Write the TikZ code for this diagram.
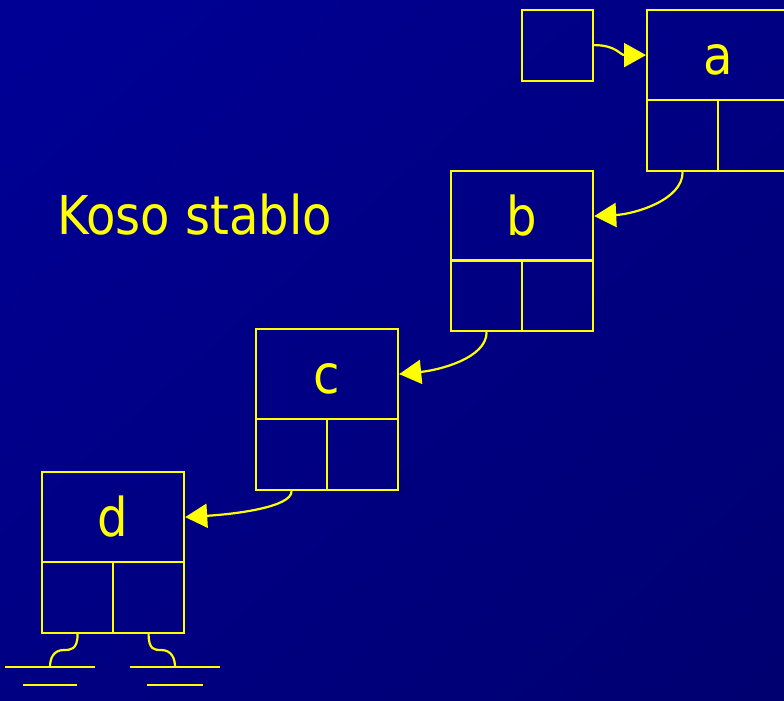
\documentclass[tikz,border=0pt]{standalone}
\usepackage{fontspec}
\setmainfont{DejaVu Sans Condensed}
\usetikzlibrary{arrows.meta,shadings}
\definecolor{bgUL}{RGB}{0,0,150}
\definecolor{bgMID}{RGB}{0,0,131}
\definecolor{bgLR}{RGB}{0,0,112}
\definecolor{ylw}{RGB}{255,255,0}
\tikzset{
  cell/.style={draw=ylw, line width=2.2pt, inner sep=0pt, anchor=north west},
  topcell/.style={cell, minimum width=142pt, minimum height=90pt,
    text=ylw, text height=38pt, text depth=0pt,
    font=\fontsize{53.5}{60}\selectfont},
  botcell/.style={cell, minimum width=71pt, minimum height=71pt},
  ptr/.style={draw=ylw, line width=2.2pt, -{Triangle[length=22pt,width=24pt]}},
  gnd/.style={draw=ylw, line width=2.2pt},
}
\begin{document}
\begin{tikzpicture}[x=1pt,y=-1pt]
\useasboundingbox (0,0) rectangle (784,701);
\clip (0,0) rectangle (784,701);
\shade[upper left=bgUL, upper right=bgMID, lower left=bgMID, lower right=bgLR]
  (0,0) rectangle (784,701);

% title
\node[anchor=base west, inner sep=0pt, text=ylw, font=\fontsize{53.5}{60}\selectfont]
  (title) at (57,234) {Koso stablo};

% head pointer
\node[cell, minimum width=71pt, minimum height=71pt] (head) at (521,9) {};

% records
\node[topcell] (a) at (646,9) {a};
\node[botcell] (aL) at (646,99) {};
\node[botcell] (aR) at (717,99) {};

\node[topcell] (b) at (450,170) {b};
\node[botcell] (bL) at (450,259) {};
\node[botcell] (bR) at (521,259) {};

\node[topcell] (c) at (255,328) {c};
\node[botcell] (cL) at (255,418) {};
\node[botcell] (cR) at (326,418) {};

\node[topcell] (d) at (41,471) {d};
\node[botcell] (dL) at (41,561) {};
\node[botcell] (dR) at (112,561) {};

% pointers
\draw[ptr] (head.east) ++(0,-0.5) .. controls +(22,0) and +(-26,0) .. (a.west);
\draw[ptr] (aL.south) .. controls +(0,28) and +(40,-2) .. (b.east);
\draw[ptr] (bL.south) .. controls +(0,26) and +(40,-4) .. (c.east);
\draw[ptr] (cL.south) .. controls +(0,16) and +(50,-3) .. (d.east);

% ground symbols
\coordinate (g1) at (50,667);
\coordinate (g2) at (175,667);
\draw[gnd] (dL.south) .. controls +(0,16) and +(6,0) .. (64,650)
  .. controls +(-11,0) and +(0,-8) .. (g1);
\draw[gnd] (dR.south) .. controls +(0,16) and +(-6,0) .. (161,650)
  .. controls +(11,0) and +(0,-8) .. (g2);
\draw[gnd] (5,667) -- (95,667) (23,685) -- (77,685);
\draw[gnd] (130,667) -- (220,667) (147,685) -- (203,685);
\end{tikzpicture}
\end{document}
